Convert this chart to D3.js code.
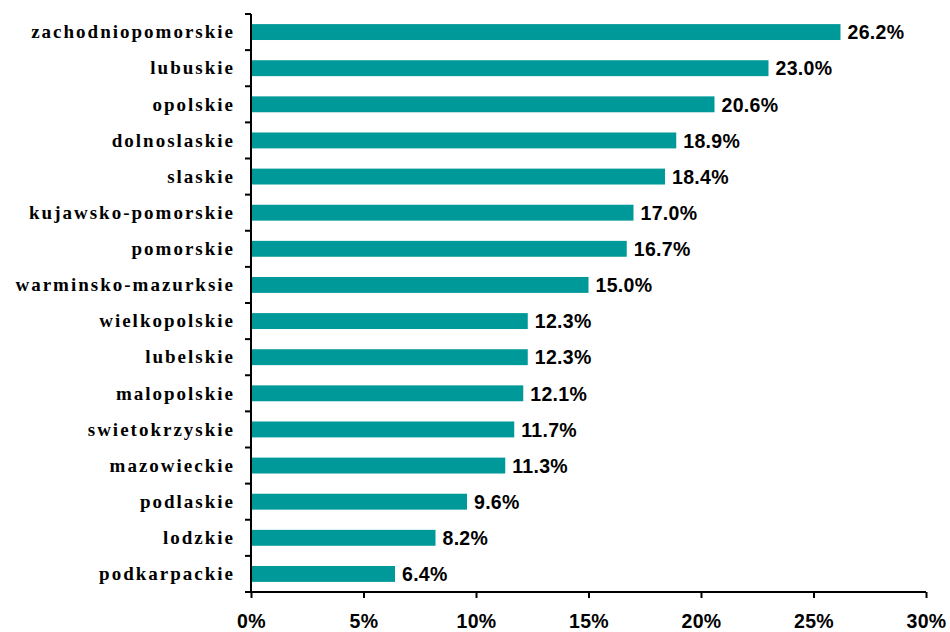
<!DOCTYPE html>
<html>
<head>
<meta charset="utf-8">
<script src="https://cdn.jsdelivr.net/npm/d3@7"></script>
<style>
  body { margin: 0; background: #fff; }
  svg { display: block; }
</style>
</head>
<body>
<svg id="chart" width="950" height="632"></svg>
<script>
const categories = ["zachodniopomorskie","lubuskie","opolskie","dolnoslaskie","slaskie","kujawsko-pomorskie","pomorskie","warminsko-mazurksie","wielkopolskie","lubelskie","malopolskie","swietokrzyskie","mazowieckie","podlaskie","lodzkie","podkarpackie"];
const values = [26.2,23.0,20.6,18.9,18.4,17.0,16.7,15.0,12.3,12.3,12.1,11.7,11.3,9.6,8.2,6.4];
const tickValues = [0,5,10,15,20,25,30];

(function () {
const svg = d3.select("#chart");
const mLeft = 251, mRight = 926, mTop = 14, mBottom = 592;

const x = d3.scaleLinear().domain([0, 30]).range([mLeft, mRight]);
const y = d3.scaleBand().domain(categories).range([mTop, mBottom]).paddingInner(0.56).paddingOuter(0.28);

const data = categories.map((c, i) => ({ c, v: values[i] }));

svg.append("g").selectAll("rect").data(data).join("rect")
  .attr("x", x(0))
  .attr("y", d => y(d.c))
  .attr("width", d => x(d.v) - x(0))
  .attr("height", y.bandwidth())
  .attr("fill", "#009999");

svg.append("g").selectAll("text").data(data).join("text")
  .attr("x", d => x(d.v) + 7)
  .attr("y", d => y(d.c) + y.bandwidth() / 2)
  .attr("dy", "0.37em")
  .attr("font-family", "Liberation Sans, Arial, sans-serif")
  .attr("font-weight", "bold")
  .attr("font-size", 19.5)
  .attr("letter-spacing", 0.3)
  .attr("fill", "#000")
  .text(d => d.v.toFixed(1) + "%");

const step = (mBottom - mTop) / categories.length;
const yAxis = svg.append("g");
yAxis.append("line").attr("x1", mLeft).attr("x2", mLeft).attr("y1", mTop).attr("y2", mBottom)
  .attr("stroke", "#000").attr("stroke-width", 2);
yAxis.selectAll("line.t").data(d3.range(categories.length + 1)).join("line")
  .attr("class", "t")
  .attr("x1", mLeft - 6).attr("x2", mLeft)
  .attr("y1", i => mTop + i * step).attr("y2", i => mTop + i * step)
  .attr("stroke", "#000").attr("stroke-width", 2);

yAxis.selectAll("text").data(categories).join("text")
  .attr("x", mLeft - 16)
  .attr("y", d => y(d) + y.bandwidth() / 2)
  .attr("dy", "0.33em")
  .attr("text-anchor", "end")
  .attr("font-family", "Liberation Serif, Times New Roman, serif")
  .attr("font-weight", "bold")
  .attr("font-size", 19)
  .attr("letter-spacing", 2.0)
  .attr("fill", "#000")
  .text(d => d);

const xAxis = svg.append("g").attr("transform", `translate(0,${mBottom})`)
  .call(d3.axisBottom(x).tickValues(tickValues).tickSize(6).tickPadding(16).tickFormat(d => d + "%"));
xAxis.select(".domain").attr("stroke", "#000").attr("stroke-width", 2).attr("d", `M${mLeft},0H${mRight}`);
xAxis.selectAll(".tick line").attr("stroke", "#000").attr("stroke-width", 2);
xAxis.selectAll(".tick text")
  .attr("font-family", "Liberation Sans, Arial, sans-serif")
  .attr("font-weight", "bold")
  .attr("font-size", 19.5)
  .attr("letter-spacing", 0.3)
  .attr("fill", "#000");
})();
</script>
</body>
</html>
